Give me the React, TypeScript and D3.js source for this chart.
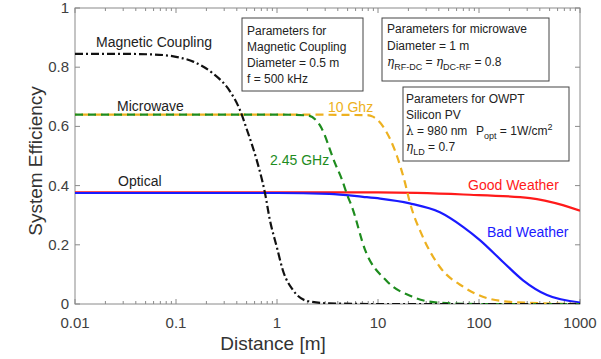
import React from 'react';
import * as d3 from 'd3';

// distance [m] / efficiency pairs
const magDist = [0.01, 0.03, 0.06, 0.1, 0.15, 0.23, 0.34, 0.43, 0.5, 0.63, 0.71, 0.76, 0.85, 1.0, 1.14, 1.44, 2.0, 3.3, 10, 100, 1000];
const magEff = [0.845, 0.845, 0.843, 0.835, 0.818, 0.78, 0.72, 0.655, 0.592, 0.486, 0.42, 0.375, 0.284, 0.19, 0.115, 0.047, 0.01, 0.002, 0, 0, 0];

const ghz245Dist = [0.01, 0.1, 1, 2, 2.7, 3.75, 4.4, 5, 5.5, 7.5, 12, 22, 41, 100, 1000];
const ghz245Eff = [0.64, 0.64, 0.64, 0.637, 0.6, 0.476, 0.42, 0.365, 0.33, 0.18, 0.08, 0.024, 0.004, 0, 0];

const ghz10Dist = [0.01, 0.1, 1, 7.8, 8.9, 11.2, 15.4, 18.5, 20.6, 27.5, 41, 70, 120, 230, 1000];
const ghz10Eff = [0.64, 0.64, 0.64, 0.638, 0.633, 0.6, 0.5, 0.41, 0.345, 0.23, 0.125, 0.058, 0.02, 0.006, 0];

const goodDist = [0.01, 1, 10, 70, 320, 676, 1000];
const goodEff = [0.377, 0.377, 0.377, 0.37, 0.358, 0.334, 0.315];

const badDist = [0.01, 1, 3.3, 7.1, 10.5, 20.6, 41, 70, 102, 173, 273, 471, 1000];
const badEff = [0.375, 0.375, 0.372, 0.362, 0.356, 0.34, 0.31, 0.26, 0.216, 0.142, 0.08, 0.03, 0.005];

const xTicks = [0.01, 0.1, 1, 10, 100, 1000];
const xTickLabels = ['0.01', '0.1', '1', '10', '100', '1000'];
const yTicks = [0, 0.2, 0.4, 0.6, 0.8, 1];
const yTickLabels = ['0', '0.2', '0.4', '0.6', '0.8', '1'];

const W = 601;
const H = 359;
const L = 75, R = 580, T = 8, B = 304;

const font = 'Arial, "Liberation Sans", sans-serif';
const greek = '"DejaVu Serif", serif';
const axisCol = '#8a8a8a';
const tickTxt = '#404040';

const App = () => {
  const x = d3.scaleLog().domain([0.01, 1000]).range([L, R]);
  const y = d3.scaleLinear().domain([0, 1]).range([B, T]);

  const line = d3.line<[number, number]>()
    .x(d => x(d[0]))
    .y(d => y(d[1]))
    .curve(d3.curveMonotoneX);

  const zip = (a: number[], b: number[]) => a.map((v, i) => [v, b[i]] as [number, number]);

  const minor: number[] = [];
  for (let e = -2; e < 3; e++) {
    for (let k = 2; k <= 9; k++) minor.push(k * Math.pow(10, e));
  }

  return (
    <svg width={W} height={H} style={{ position: 'absolute', left: 0, top: 0, background: '#fff' }} fontFamily={font}>
      <defs>
        <clipPath id="plot">
          <rect x={L} y={T} width={R - L} height={B - T} />
        </clipPath>
      </defs>

      {/* axes frame */}
      <rect x={L} y={T} width={R - L} height={B - T} fill="none" stroke={axisCol} strokeWidth={1} />

      {xTicks.map(t => (
        <g key={'xt' + t}>
          <line x1={x(t)} x2={x(t)} y1={B} y2={B - 5} stroke={axisCol} />
          <line x1={x(t)} x2={x(t)} y1={T} y2={T + 5} stroke={axisCol} />
        </g>
      ))}
      {minor.map(t => (
        <g key={'xm' + t}>
          <line x1={x(t)} x2={x(t)} y1={B} y2={B - 3} stroke={axisCol} />
          <line x1={x(t)} x2={x(t)} y1={T} y2={T + 3} stroke={axisCol} />
        </g>
      ))}
      {yTicks.map(t => (
        <g key={'yt' + t}>
          <line x1={L} x2={L + 5} y1={y(t)} y2={y(t)} stroke={axisCol} />
          <line x1={R} x2={R - 5} y1={y(t)} y2={y(t)} stroke={axisCol} />
        </g>
      ))}

      {xTicks.map((t, i) => (
        <text key={'xl' + t} x={x(t)} y={328} fontSize={15} fill={tickTxt} textAnchor="middle">{xTickLabels[i]}</text>
      ))}
      {yTicks.map((t, i) => (
        <text key={'yl' + t} x={69} y={y(t) + 5} fontSize={15} fill={tickTxt} textAnchor="end">{yTickLabels[i]}</text>
      ))}

      <text x={273} y={350} fontSize={19} fill="#333" textAnchor="middle">Distance [m]</text>
      <text transform="translate(42,161) rotate(-90)" fontSize={19} fill="#333" textAnchor="middle">System Efficiency</text>

      {/* curves */}
      <g clipPath="url(#plot)" fill="none" strokeWidth={2.2}>
        <path d={line(zip(goodDist, goodEff)) || ''} stroke="#ff1a1a" />
        <path d={line(zip(badDist, badEff)) || ''} stroke="#1a1aff" />
        <path d={line(zip(ghz10Dist, ghz10Eff)) || ''} stroke="#edb120" strokeDasharray="8 5" strokeDashoffset={6.5} />
        <path d={line(zip(ghz245Dist, ghz245Eff)) || ''} stroke="#1e8c1e" strokeDasharray="8 5" />
        <path d={line(zip(magDist, magEff)) || ''} stroke="#111" strokeDasharray="8 3 2 3" />
      </g>

      {/* curve labels */}
      <text x={96} y={47} fontSize={14} fill="#222">Magnetic Coupling</text>
      <text x={117} y={111} fontSize={14} fill="#222">Microwave</text>
      <text x={118} y={186} fontSize={14} fill="#222">Optical</text>
      <text x={328} y={112} fontSize={14} fill="#edb120">10 Ghz</text>
      <text x={270} y={165} fontSize={14} fill="#1e8c1e">2.45 GHz</text>
      <text x={468} y={190} fontSize={14} fill="#ff1a1a">Good Weather</text>
      <text x={487} y={237} fontSize={14} fill="#1a1aff">Bad Weather</text>

      {/* parameter boxes */}
      <g fontSize={12} fill="#222">
        <rect x={242} y={18} width={121} height={73} fill="#fff" stroke="#444" />
        <text x={247} y={35}>Parameters for</text>
        <text x={247} y={51}>Magnetic Coupling</text>
        <text x={247} y={67}>Diameter = 0.5 m</text>
        <text x={247} y={83}>f = 500 kHz</text>

        <rect x={382} y={18} width={167} height={63} fill="#fff" stroke="#444" />
        <text x={387} y={33}>Parameters for microwave</text>
        <text x={387} y={50}>Diameter = 1 m</text>
        <text x={387} y={66}>
          <tspan fontFamily={greek} fontStyle="italic">η</tspan>
          <tspan fontSize={9} dy={4}>RF-DC</tspan>
          <tspan dy={-4}> = </tspan>
          <tspan fontFamily={greek} fontStyle="italic">η</tspan>
          <tspan fontSize={9} dy={4}>DC-RF</tspan>
          <tspan dy={-4}> = 0.8</tspan>
        </text>

        <rect x={403} y={87} width={166} height={74} fill="#fff" stroke="#444" />
        <text x={406} y={103}>Parameters for OWPT</text>
        <text x={406} y={119}>Silicon PV</text>
        <text x={406} y={135}>
          <tspan fontFamily={greek}>λ</tspan>
          <tspan> = 980 nm</tspan>
        </text>
        <text x={476} y={135}>
          <tspan>P</tspan>
          <tspan fontSize={9} dy={4}>opt</tspan>
          <tspan dy={-4}> = 1W/cm</tspan>
          <tspan fontSize={9} dy={-5}>2</tspan>
        </text>
        <text x={406} y={151}>
          <tspan fontFamily={greek} fontStyle="italic">η</tspan>
          <tspan fontSize={9} dy={4}>LD</tspan>
          <tspan dy={-4}> = 0.7</tspan>
        </text>
      </g>
    </svg>
  );
};

export default App;
